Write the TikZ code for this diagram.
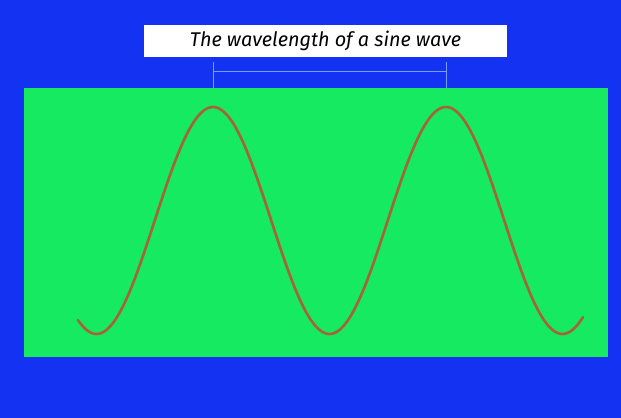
\documentclass[tikz,border=0pt]{standalone}
\usepackage{fontspec}
\setsansfont{Fira Sans}
\usetikzlibrary{positioning,calc}
\definecolor{fondo}{RGB}{20,50,242}
\definecolor{campo}{RGB}{22,234,96}
\definecolor{onda}{RGB}{165,100,55}
\definecolor{marca}{RGB}{120,160,250}

\begin{document}
\begin{tikzpicture}[x=0.02cm,y=-0.02cm]
%----------estilos---------
\tikzset{titulo/.style={
rectangle,
fill=white,
minimum width=7.26cm,
minimum height=0.64cm,
inner sep=0pt,
font=\sffamily\itshape\fontsize{11.3}{13}\selectfont
},
cota/.style={draw=marca,line width=0.5pt}}

%------------ fondo y campo---------------
\fill [fondo] (0,0) rectangle (621,418);
\useasboundingbox (0,0) rectangle (621,418);
\fill [campo] (24,88) rectangle (608,357);

%------------ titulo---------------
\node [titulo] (titulo) at (325.5,41) {The wavelength of a sine wave};

% -----------cota longitud de onda----------------
\coordinate (ci) at (213,62);
\coordinate (cf) at (446,62);
\coordinate (bi) at (213,88);
\coordinate (bf) at (446,88);
\draw [cota] (ci)--(bi);
\draw [cota] (cf)--(bf);
\draw [cota] ($(ci)!0.38!(bi)$)--($(cf)!0.38!(bf)$);

%onda senoidal
\draw [onda,line width=1.5pt,line cap=round] plot [domain=78:583,samples=200,smooth]
(\x,{220.5-113.5*cos(1.54506*(\x-213))});
\end{tikzpicture}
\end{document}
